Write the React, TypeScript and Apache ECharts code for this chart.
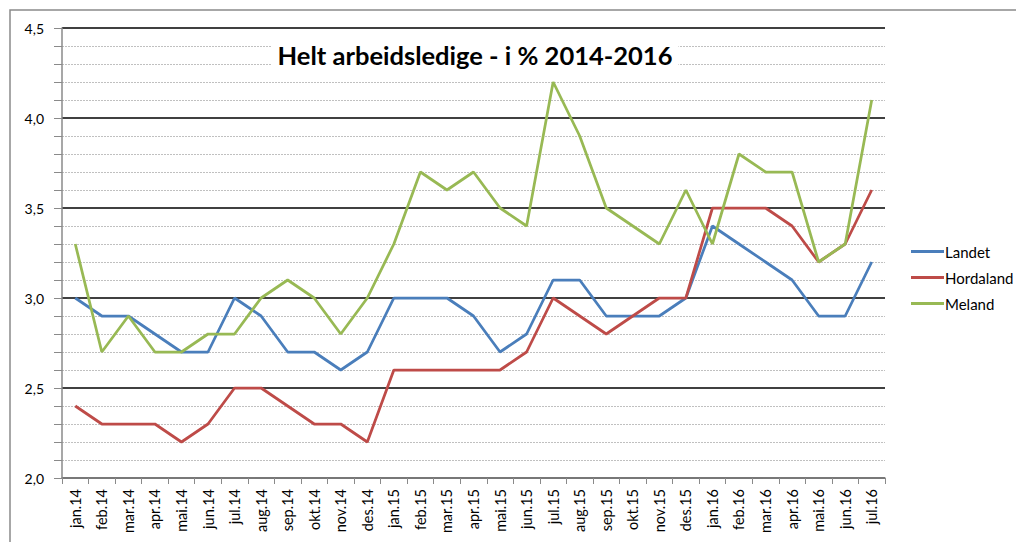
import React, { useEffect, useRef } from "react";
import * as echarts from "echarts";

const months = [
  "jan.14", "feb.14", "mar.14", "apr.14", "mai.14", "jun.14", "jul.14", "aug.14", "sep.14", "okt.14", "nov.14", "des.14",
  "jan.15", "feb.15", "mar.15", "apr.15", "mai.15", "jun.15", "jul.15", "aug.15", "sep.15", "okt.15", "nov.15", "des.15",
  "jan.16", "feb.16", "mar.16", "apr.16", "mai.16", "jun.16", "jul.16",
];

const landet = [
  3.0, 2.9, 2.9, 2.8, 2.7, 2.7, 3.0, 2.9, 2.7, 2.7, 2.6, 2.7,
  3.0, 3.0, 3.0, 2.9, 2.7, 2.8, 3.1, 3.1, 2.9, 2.9, 2.9, 3.0,
  3.4, 3.3, 3.2, 3.1, 2.9, 2.9, 3.2,
];

const hordaland = [
  2.4, 2.3, 2.3, 2.3, 2.2, 2.3, 2.5, 2.5, 2.4, 2.3, 2.3, 2.2,
  2.6, 2.6, 2.6, 2.6, 2.6, 2.7, 3.0, 2.9, 2.8, 2.9, 3.0, 3.0,
  3.5, 3.5, 3.5, 3.4, 3.2, 3.3, 3.6,
];

const meland = [
  3.3, 2.7, 2.9, 2.7, 2.7, 2.8, 2.8, 3.0, 3.1, 3.0, 2.8, 3.0,
  3.3, 3.7, 3.6, 3.7, 3.5, 3.4, 4.2, 3.9, 3.5, 3.4, 3.3, 3.6,
  3.3, 3.8, 3.7, 3.7, 3.2, 3.3, 4.1,
];

const seriesNames = ["Landet", "Hordaland", "Meland"];
const seriesColors = ["#4a7ebb", "#be4b48", "#98b954"];
const titleText = "Helt arbeidsledige - i % 2014-2016";

const FONT = "Lato, 'Open Sans', sans-serif";

export default function App() {
  const ref = useRef<HTMLDivElement>(null);

  useEffect(() => {
    if (!ref.current) return;
    const chart = echarts.init(ref.current, undefined, { renderer: "svg" });
    const data = [landet, hordaland, meland];
    chart.setOption({
      animation: false,
      backgroundColor: "#ffffff",
      textStyle: { fontFamily: FONT },
      title: {
        text: titleText,
        left: 469,
        textAlign: "center",
        top: 38,
        backgroundColor: "#ffffff",
        padding: [4, 6],
        textStyle: { fontSize: 25.5, fontWeight: "bold", color: "#000", fontFamily: FONT },
        z: 10,
      },
      graphic: [
        {
          type: "rect",
          shape: { x: 10, y: 10, width: 1200, height: 800 },
          style: { fill: "none", stroke: "#8a8a8a", lineWidth: 1.5 },
          silent: true,
          z: -1,
        },
      ],
      legend: {
        orient: "vertical",
        left: 906,
        top: 239,
        icon: "rect",
        itemWidth: 33,
        itemHeight: 3,
        itemGap: 11,
        textStyle: { fontSize: 15, color: "#000", fontFamily: FONT, padding: [0, 0, 0, -4] },
        data: seriesNames,
      },
      grid: { left: 62, top: 28, width: 823, height: 450, containLabel: false },
      xAxis: {
        type: "category",
        data: months,
        boundaryGap: true,
        axisLine: { show: true, lineStyle: { color: "#8a8a8a", width: 1.5 } },
        axisTick: { show: true, alignWithLabel: false, length: 6, lineStyle: { color: "#8a8a8a" } },
        axisLabel: { rotate: 90, fontSize: 14.5, color: "#000", margin: 11, interval: 0, fontFamily: FONT },
        splitLine: { show: false },
      },
      yAxis: {
        type: "value",
        min: 2,
        max: 4.5,
        interval: 0.5,
        axisLine: { show: true, lineStyle: { color: "#8a8a8a", width: 1.5 } },
        axisTick: { show: true, length: 8, lineStyle: { color: "#8a8a8a" } },
        minorTick: { show: true, splitNumber: 5, length: 8, lineStyle: { color: "#8a8a8a" } },
        axisLabel: {
          fontSize: 14,
          color: "#000",
          margin: 18,
          fontFamily: FONT,
          formatter: (v: number) => v.toFixed(1).replace(".", ","),
        },
        splitLine: { show: true, lineStyle: { color: "#000", width: 1.5 } },
        minorSplitLine: { show: true, lineStyle: { color: "#c0c0c0", width: 1, type: [2, 1] } },
      },
      series: seriesNames.map((name, i) => ({
        name,
        type: "line",
        data: data[i],
        symbol: "none",
        showSymbol: false,
        lineStyle: { color: seriesColors[i], width: 2.75 },
        itemStyle: { color: seriesColors[i] },
        z: 3 + i,
      })),
    });
    return () => chart.dispose();
  }, []);

  return (
    <div
      ref={ref}
      style={{ position: "fixed", left: 0, top: 0, width: 1016, height: 542 }}
    />
  );
}
